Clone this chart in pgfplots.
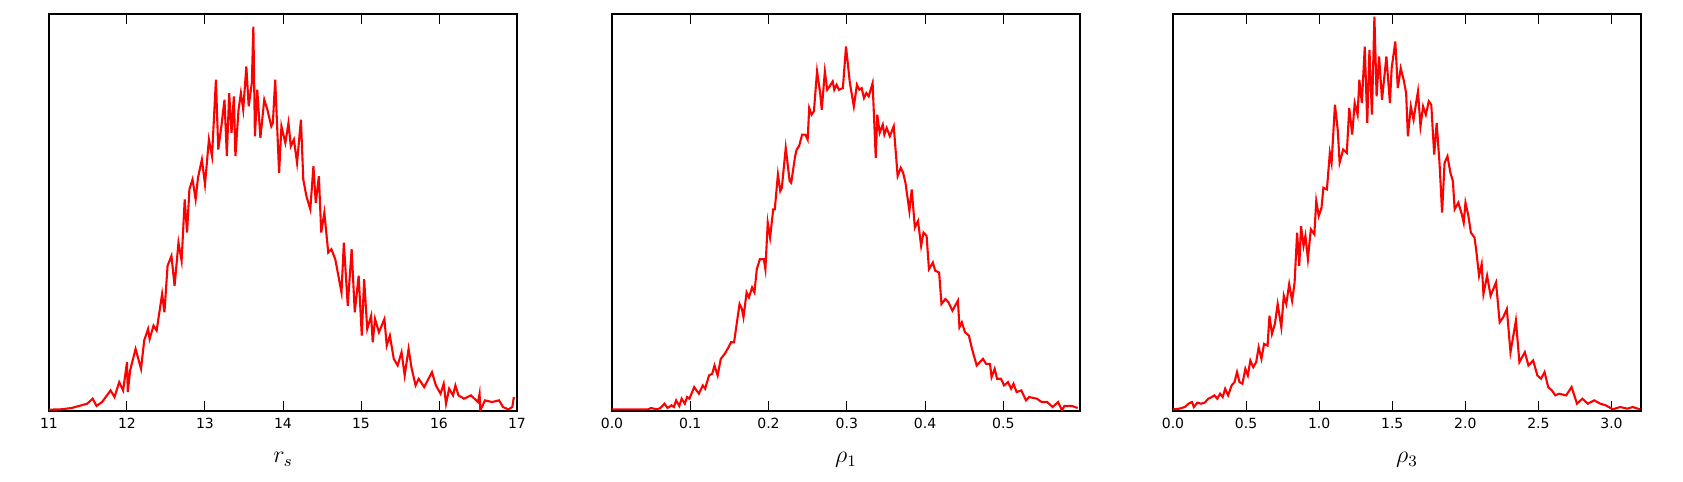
\documentclass[border=0pt]{standalone}
\usepackage{fontspec}
\setmainfont{DejaVu Sans}
\usepackage{pgfplots}
\pgfplotsset{compat=1.18}

% heights are in the reference's pixel units above the axis floor
\pgfplotstableread{
x y
11.00 4
11.15 5
11.29 9
11.49 22
11.56 37
11.61 15
11.68 27
11.79 62
11.84 42
11.90 87
11.95 62
12.00 147
12.01 57
12.04 122
12.11 187
12.18 127
12.22 212
12.27 247
12.29 217
12.34 257
12.38 242
12.45 352
12.48 297
12.52 437
12.57 467
12.61 377
12.66 507
12.70 452
12.74 637
12.77 537
12.80 667
12.84 697
12.88 637
12.91 702
12.96 757
13.00 682
13.05 817
13.09 767
13.14 997
13.17 787
13.21 857
13.25 937
13.28 767
13.31 957
13.34 837
13.37 947
13.39 767
13.43 907
13.46 957
13.49 907
13.53 1037
13.56 917
13.60 987
13.62 1157
13.64 827
13.67 967
13.71 822
13.76 937
13.80 907
13.85 857
13.87 867
13.90 997
13.95 717
13.98 857
14.03 807
14.07 867
14.10 797
14.14 817
14.18 747
14.23 877
14.26 697
14.30 647
14.35 607
14.39 737
14.42 627
14.46 707
14.49 537
14.53 597
14.58 477
14.62 487
14.67 457
14.75 357
14.78 507
14.83 317
14.88 487
14.92 297
14.97 407
15.01 227
15.04 397
15.08 247
15.13 287
15.15 207
15.18 277
15.23 237
15.30 277
15.33 197
15.37 227
15.42 157
15.47 137
15.52 177
15.56 107
15.61 187
15.65 127
15.70 77
15.74 97
15.81 72
15.91 117
15.96 77
16.02 52
16.06 82
16.09 22
16.13 67
16.18 47
16.21 77
16.25 47
16.32 37
16.41 47
16.50 27
16.52 52
16.53 2
16.59 32
16.68 27
16.77 32
16.82 12
16.89 5
16.94 12
16.96 42
}\rs

\pgfplotstableread{
x y
0.000 5
0.046 5
0.050 9
0.057 5
0.062 9
0.067 22
0.071 9
0.076 17
0.079 12
0.082 32
0.086 15
0.089 37
0.093 22
0.096 42
0.099 37
0.105 72
0.111 52
0.116 77
0.119 67
0.124 107
0.128 112
0.131 137
0.135 107
0.139 157
0.144 172
0.149 192
0.152 207
0.156 207
0.159 257
0.163 322
0.166 307
0.168 282
0.172 357
0.175 342
0.179 372
0.182 357
0.185 427
0.189 457
0.194 457
0.196 427
0.199 567
0.202 522
0.206 607
0.208 607
0.212 712
0.215 662
0.217 672
0.222 792
0.227 692
0.229 687
0.234 767
0.236 787
0.239 797
0.243 832
0.247 832
0.250 817
0.252 912
0.255 892
0.258 902
0.262 1022
0.266 957
0.268 907
0.272 1022
0.275 967
0.278 977
0.282 992
0.284 967
0.287 982
0.290 967
0.295 972
0.299 1097
0.304 987
0.309 917
0.313 982
0.316 967
0.319 972
0.322 942
0.325 957
0.328 947
0.333 987
0.337 762
0.339 892
0.342 837
0.346 862
0.348 832
0.351 852
0.355 827
0.360 857
0.365 707
0.369 732
0.372 717
0.375 687
0.380 602
0.383 667
0.387 552
0.391 572
0.395 497
0.398 537
0.402 527
0.405 427
0.410 447
0.413 422
0.418 417
0.421 322
0.426 337
0.430 327
0.435 302
0.442 332
0.444 252
0.447 267
0.451 237
0.456 227
0.460 187
0.466 137
0.470 147
0.474 157
0.478 142
0.483 142
0.485 102
0.489 127
0.492 97
0.497 97
0.501 77
0.506 87
0.510 67
0.513 82
0.517 57
0.523 62
0.529 32
0.533 42
0.543 37
0.549 27
0.556 27
0.563 12
0.570 27
0.575 2
0.578 15
0.588 15
0.595 9
}\rhoone

\pgfplotstableread{
x y
0.000 5
0.044 7
0.081 12
0.106 22
0.130 27
0.143 12
0.167 25
0.192 22
0.217 25
0.241 37
0.266 42
0.283 47
0.303 37
0.322 52
0.340 42
0.357 67
0.377 47
0.401 77
0.421 87
0.438 117
0.455 87
0.475 82
0.495 127
0.512 107
0.529 152
0.549 132
0.569 147
0.586 192
0.605 157
0.623 202
0.647 197
0.660 287
0.677 232
0.697 262
0.716 322
0.741 252
0.758 347
0.775 322
0.795 382
0.815 332
0.832 387
0.849 537
0.864 437
0.876 557
0.893 497
0.906 527
0.923 457
0.943 547
0.967 532
0.980 632
0.997 587
1.016 612
1.029 672
1.053 667
1.073 777
1.085 747
1.108 922
1.127 847
1.140 747
1.164 787
1.189 777
1.206 912
1.226 832
1.243 927
1.263 892
1.275 997
1.292 927
1.312 1097
1.329 867
1.344 1087
1.361 892
1.378 1187
1.393 947
1.410 1067
1.430 937
1.460 1067
1.484 927
1.496 1032
1.521 1112
1.538 972
1.558 1032
1.578 997
1.595 957
1.607 827
1.627 917
1.646 877
1.663 927
1.676 962
1.693 857
1.711 917
1.730 892
1.750 932
1.767 922
1.787 772
1.804 867
1.824 742
1.841 597
1.858 747
1.878 767
1.898 717
1.915 692
1.927 607
1.952 627
1.976 592
1.989 567
2.001 627
2.021 587
2.038 537
2.063 522
2.075 482
2.094 407
2.112 442
2.124 352
2.149 407
2.173 347
2.210 387
2.235 267
2.259 282
2.284 307
2.309 177
2.346 272
2.370 147
2.407 177
2.432 137
2.464 152
2.493 107
2.518 97
2.542 117
2.567 72
2.592 62
2.616 47
2.641 52
2.690 47
2.727 72
2.764 22
2.801 37
2.838 22
2.882 32
2.924 22
2.961 17
3.010 5
3.059 12
3.109 7
3.145 12
3.195 5
}\rhothree

\pgfplotsset{
  hist/.style={
    scale only axis, width=234pt, height=198.5pt,
    anchor=south west,
    ymin=0, ymax=1195, ytick=\empty,
    axis line style={line width=0.8pt},
    tick align=inside, major tick length=5pt,
    xtick style={line width=0.5pt, black},
    tick label style={font=\fontsize{7}{8}\selectfont, black},
    /pgf/number format/assume math mode=true,
    xlabel style={font=\large, at={(axis description cs:0.5,0)}, anchor=base, yshift=-26pt},
  },
  redline/.style={red, line width=1.05pt, mark=none},
}

\begin{document}
\begin{tikzpicture}
  \path[use as bounding box] (-24.5pt,-35.5pt) rectangle (817pt,205.5pt);

  \begin{axis}[hist, at={(0pt,0pt)},
      xmin=11, xmax=17, xtick={11,...,17},
      xlabel={$r_s$}]
    \addplot[redline] table[x=x, y=y] {\rs};
  \end{axis}

  \begin{axis}[hist, at={(281.5pt,0pt)},
      xmin=0, xmax=0.598, xtick={0,0.1,...,0.5},
      xticklabel style={/pgf/number format/.cd, fixed, fixed zerofill, precision=1},
      xlabel={$\rho_1$}]
    \addplot[redline] table[x=x, y=y] {\rhoone};
  \end{axis}

  \begin{axis}[hist, at={(562pt,0pt)},
      xmin=0, xmax=3.202, xtick={0,0.5,...,3.0},
      xticklabel style={/pgf/number format/.cd, fixed, fixed zerofill, precision=1},
      xlabel={$\rho_3$}]
    \addplot[redline] table[x=x, y=y] {\rhothree};
  \end{axis}
\end{tikzpicture}
\end{document}
